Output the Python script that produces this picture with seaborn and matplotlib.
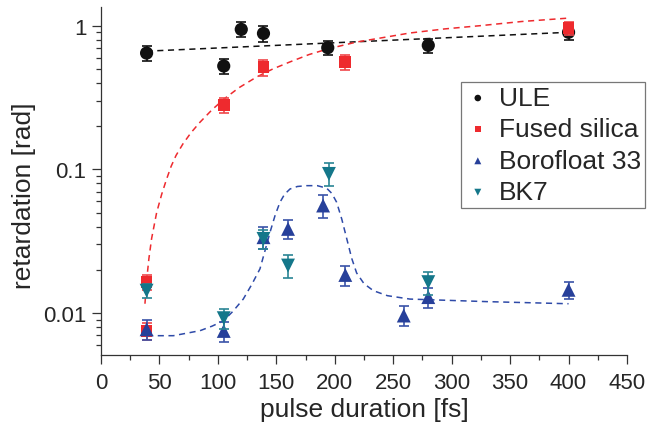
import numpy as np
import pandas as pd
import seaborn as sns
import matplotlib.pyplot as plt
from matplotlib.ticker import MultipleLocator, LogLocator, NullFormatter, FixedFormatter, FixedLocator

# measured points (pulse duration [fs], retardation [rad], error)
ule_x = [39, 105, 120, 139, 194, 280, 400]
ule_y = [0.645, 0.524, 0.943, 0.884, 0.703, 0.73, 0.90]
ule_err = [0.075, 0.063, 0.11, 0.11, 0.08, 0.08, 0.1]

fs_x = [39, 39, 105, 139, 209, 400]
fs_y = [0.0165, 0.0075, 0.28, 0.515, 0.56, 0.96]
fs_err = [0.002, 0.001, 0.035, 0.065, 0.07, 0.1]

bf_x = [39, 105, 139, 160, 190, 209, 259, 280, 400]
bf_y = [0.0077, 0.0075, 0.0337, 0.0385, 0.056, 0.0184, 0.0096, 0.0129, 0.0145]
bf_err = [0.0012, 0.0012, 0.006, 0.006, 0.01, 0.003, 0.0015, 0.002, 0.002]

bk_x = [39, 105, 139, 160, 195, 280]
bk_y = [0.0143, 0.0092, 0.0328, 0.0214, 0.093, 0.0164]
bk_err = [0.0015, 0.0015, 0.005, 0.004, 0.017, 0.003]

# dashed guide curves
ule_fit_x = [39, 400]
ule_fit_y = [0.665, 0.90]

fs_fit_x = [37.6, 39.4, 41, 43.3, 47.6, 51.9, 56, 60, 64.2, 70, 77, 84.7, 95, 105.5,
            118, 133.2, 147, 161.7, 178, 194.2, 218.7, 238.7, 264.3, 294, 324, 360, 400]
fs_fit_y = [0.0116, 0.018, 0.024, 0.033, 0.050, 0.067, 0.085, 0.105, 0.125, 0.15, 0.18, 0.213, 0.26, 0.31,
            0.37, 0.44, 0.50, 0.56, 0.63, 0.69, 0.77, 0.82, 0.89, 0.95, 1.0, 1.07, 1.13]

bf_fit_x = [39.4, 61.9, 84.7, 95, 104.6, 113, 121.7, 129, 136, 140.5, 144.6, 149, 153.1, 157, 161.7,
            168, 176, 185, 193, 197.5, 201.6, 206, 210.2, 214.5, 218.7, 225, 233, 245, 264.3, 330, 400]
bf_fit_y = [0.00695, 0.00695, 0.00753, 0.0081, 0.0088, 0.0103, 0.0125, 0.0158, 0.0203, 0.0275, 0.0365,
            0.048, 0.059, 0.067, 0.073, 0.076, 0.077, 0.077, 0.074, 0.068, 0.059, 0.045, 0.033, 0.024,
            0.019, 0.016, 0.0143, 0.0132, 0.0125, 0.0120, 0.0116]

x_ticks = [0, 50, 100, 150, 200, 250, 300, 350, 400, 450]
y_ticks = [0.01, 0.1, 1]
y_tick_labels = ['0.01', '0.1', '1']

sns.set_style('ticks')
plt.rcParams['font.family'] = ['Liberation Sans', 'DejaVu Sans']

fig = plt.figure(figsize=(6.5, 4.27), dpi=100)
ax = fig.add_axes([101 / 650, 1 - 356 / 427, 526 / 650, 348 / 427])

series = [
    ('ULE', ule_x, ule_y, ule_err, '#111111', '#111111', 'o', 9.5, ule_fit_x, ule_fit_y, '#111111'),
    ('Fused silica', fs_x, fs_y, fs_err, '#ee2a2e', '#f0474a', 's', 8.5, fs_fit_x, fs_fit_y, '#ee2a2e'),
    ('Borofloat 33', bf_x, bf_y, bf_err, '#27409a', '#3a53a8', '^', 10, bf_fit_x, bf_fit_y, '#2e4aa8'),
    ('BK7', bk_x, bk_y, bk_err, '#14778a', '#2a8595', 'v', 10, None, None, None),
]

for name, x, y, err, col, ecol, mk, ms, fx, fy, fcol in series:
    if fx is not None:
        sns.lineplot(x=fx, y=fy, ax=ax, color=fcol, linestyle=(0, (4, 3)), lw=1.1,
                     sort=False, estimator=None, zorder=1)

for i, (name, x, y, err, col, ecol, mk, ms, fx, fy, fcol) in enumerate(series):
    ax.errorbar(x, y, yerr=err, fmt='none', ecolor=ecol, elinewidth=1.2,
                capsize=3.3, capthick=1.2, zorder=2 + 2 * i)
    df = pd.DataFrame({'x': x, 'y': y})
    sns.scatterplot(data=df, x='x', y='y', ax=ax, marker=mk, s=ms ** 2, color=col,
                    edgecolor='none', linewidth=0, label=name, zorder=3 + 2 * i)

ax.set_yscale('log')
ax.set_xlim(0, 450)
ax.set_ylim(0.0051, 1.35)
ax.xaxis.set_major_locator(FixedLocator(x_ticks))
ax.xaxis.set_minor_locator(MultipleLocator(25))
ax.yaxis.set_major_locator(FixedLocator(y_ticks))
ax.yaxis.set_major_formatter(FixedFormatter(y_tick_labels))
ax.yaxis.set_minor_locator(LogLocator(base=10, subs=np.arange(2, 10)))
ax.yaxis.set_minor_formatter(NullFormatter())

for s in ['top', 'right']:
    ax.spines[s].set_visible(False)
for s in ['left', 'bottom']:
    ax.spines[s].set_linewidth(0.9)
    ax.spines[s].set_color('#333333')

ax.tick_params(which='major', direction='out', length=6.5, width=0.9, color='#333333',
               labelsize=16)
ax.tick_params(axis='x', which='major', pad=6)
ax.tick_params(axis='y', which='major', pad=4)
ax.tick_params(which='minor', direction='out', length=3.6, width=0.9, color='#333333')

ax.set_xlabel('pulse duration [fs]', fontsize=19)
ax.set_ylabel('retardation [rad]', fontsize=19)
ax.xaxis.set_label_coords(0.5, -(398 - 356) / 348)
ax.yaxis.set_label_coords((36 - 101) / 526, (356 - 196) / 348)

leg = ax.legend(loc='upper right', bbox_to_anchor=(645 / 650, 1 - 83 / 427),
                bbox_transform=fig.transFigure, fontsize=19, markerscale=0.5,
                frameon=True, fancybox=False, handletextpad=0.3, labelspacing=0.28,
                borderpad=0.15, handlelength=1.0, borderaxespad=0)
leg.get_frame().set_edgecolor('#555555')
leg.get_frame().set_linewidth(0.9)

fig.savefig('out.png', dpi=100)
